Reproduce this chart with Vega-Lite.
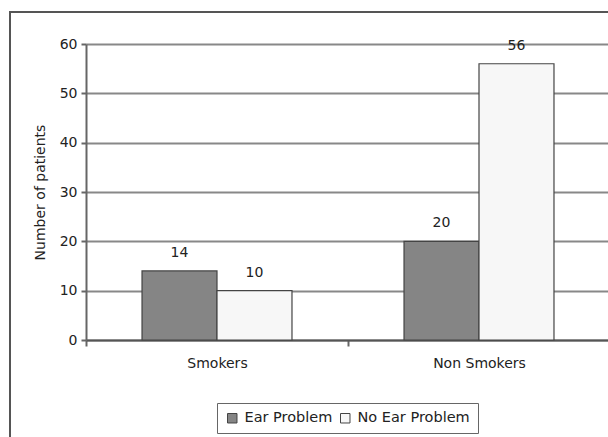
{
  "$schema": "https://vega.github.io/schema/vega-lite/v6.json",
  "width": 605,
  "height": 435,
  "autosize": "none",
  "padding": {"left": 10, "top": 12, "right": 0, "bottom": 0},
  "background": "white",
  "config": {
    "view": {"stroke": "#555", "strokeWidth": 2},
    "font": "DejaVu Sans",
    "axis": {"labelFont": "DejaVu Sans", "titleFont": "DejaVu Sans", "labelColor": "#222", "titleColor": "#222"}
  },
  "data": {
    "values": [
      {"group": "Smokers", "series": "Ear Problem", "value": 14},
      {"group": "Smokers", "series": "No Ear Problem", "value": 10},
      {"group": "Non Smokers", "series": "Ear Problem", "value": 20},
      {"group": "Non Smokers", "series": "No Ear Problem", "value": 56}
    ]
  },
  "encoding": {
    "x": {
      "field": "group",
      "type": "nominal",
      "sort": ["Smokers", "Non Smokers"],
      "scale": {"range": [76, 600], "paddingInner": 0, "paddingOuter": 0},
      "axis": {
        "title": null,
        "offset": -107,
        "labelAngle": 0,
        "tickBand": "extent",
        "labelFontSize": 14,
        "labelPadding": 10,
        "tickSize": 6,
        "tickColor": "#666",
        "tickWidth": 2,
        "domainColor": "#555",
        "domainWidth": 2,
        "grid": false
      }
    },
    "xOffset": {"field": "series", "type": "nominal", "sort": ["Ear Problem", "No Ear Problem"], "scale": {"paddingInner": 0, "paddingOuter": 0.747}},
    "y": {
      "field": "value",
      "type": "quantitative",
      "scale": {"domain": [0, 60], "range": [328, 32]},
      "axis": {
        "offset": -76,
        "values": [0, 10, 20, 30, 40, 50, 60],
        "title": "Number of patients",
        "titleFontSize": 14,
        "titleFontWeight": "normal",
        "titlePadding": 12,
        "labelFontSize": 14,
        "labelPadding": 4,
        "tickSize": 5,
        "tickColor": "#666",
        "tickWidth": 2,
        "domainColor": "#666",
        "domainWidth": 2,
        "grid": true,
        "gridColor": "#888",
        "gridWidth": 2
      }
    }
  },
  "layer": [
    {
      "mark": {"type": "bar", "stroke": "#444", "strokeWidth": 1.2},
      "encoding": {
        "color": {
          "field": "series",
          "type": "nominal",
          "scale": {"domain": ["Ear Problem", "No Ear Problem"], "range": ["#858585", "#f7f7f7"]},
          "legend": {
            "title": null,
            "orient": "none",
            "direction": "horizontal",
            "legendX": 207,
            "legendY": 391,
            "strokeColor": "#666",
            "padding": 8,
            "labelFontSize": 14.5,
            "labelFont": "DejaVu Sans",
            "labelColor": "#222",
            "symbolType": "square",
            "symbolSize": 90,
            "symbolStrokeColor": "#444",
            "symbolStrokeWidth": 1,
            "symbolOffset": 0,
            "labelOffset": 5,
            "columnPadding": 5
          }
        }
      }
    },
    {
      "mark": {"type": "text", "baseline": "middle", "dy": -18, "fontSize": 14, "color": "#222"},
      "encoding": {"text": {"field": "value", "type": "quantitative"}}
    }
  ]
}
